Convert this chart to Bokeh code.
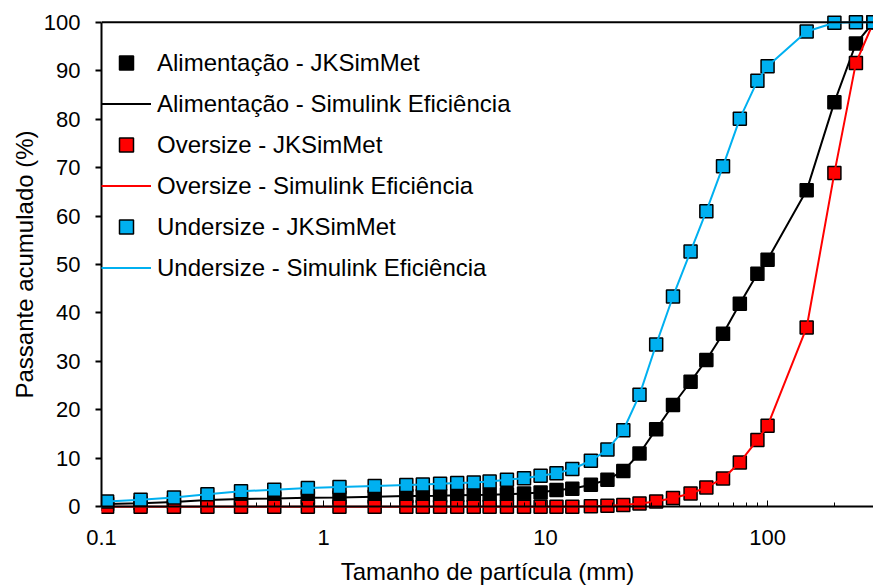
from bokeh.plotting import figure
from bokeh.models import (Range1d, FixedTicker, CustomJSTickFormatter, Span,
                          Legend, LegendItem, LogAxis)
from bokeh.embed import file_html
from bokeh.resources import INLINE

# ---------------- data ----------------
sizes = [0.106, 0.15, 0.212, 0.3, 0.425, 0.6, 0.85, 1.18, 1.7, 2.36, 2.8, 3.35,
         4.0, 4.75, 5.6, 6.7, 8.0, 9.5, 11.2, 13.2, 16.0, 19.0, 22.4, 26.5,
         31.5, 37.5, 45.0, 53.0, 63.0, 75.0, 90.0, 100.0, 150.0, 200.0, 250.0, 300.0]

alim_jk = [0.55, 0.75, 1.0, 1.4, 1.6, 1.7, 1.85, 1.9, 2.05, 2.2, 2.25, 2.3,
           2.4, 2.45, 2.5, 2.6, 2.75, 2.95, 3.45, 3.7, 4.55, 5.6, 7.4, 11.0,
           16.0, 21.0, 25.8, 30.3, 35.7, 41.9, 48.1, 51.0, 65.3, 83.5, 95.6, 100.0]
alim_sim = [0.55, 0.75, 1.0, 1.4, 1.6, 1.7, 1.85, 1.9, 2.05, 2.2, 2.25, 2.3,
            2.4, 2.45, 2.5, 2.6, 2.75, 2.95, 3.45, 3.7, 4.55, 5.6, 7.4, 11.0,
            16.0, 21.0, 25.8, 30.3, 35.7, 41.9, 48.1, 51.0, 65.3, 83.5, 95.6, 100.0]

over_jk = [0.0, 0.0, 0.0, 0.0, 0.0, 0.0, 0.0, 0.0, 0.0, 0.0, 0.0, 0.0,
           0.0, 0.0, 0.0, 0.0, 0.0, 0.0, 0.0, 0.0, 0.1, 0.2, 0.35, 0.7,
           1.1, 1.8, 2.75, 4.0, 5.85, 9.15, 13.8, 16.7, 37.0, 68.9, 91.6, 100.0]
over_sim = [0.0, 0.0, 0.0, 0.0, 0.0, 0.0, 0.0, 0.0, 0.0, 0.0, 0.0, 0.0,
            0.0, 0.0, 0.0, 0.0, 0.0, 0.0, 0.0, 0.0, 0.1, 0.2, 0.35, 0.7,
            1.1, 1.8, 2.75, 4.0, 5.85, 9.15, 13.8, 16.7, 37.0, 68.9, 91.6, 100.0]

under_jk = [1.1, 1.45, 1.9, 2.6, 3.2, 3.5, 3.9, 4.1, 4.3, 4.5, 4.6, 4.75,
            4.9, 5.0, 5.2, 5.6, 5.9, 6.4, 6.9, 7.8, 9.5, 11.8, 15.8, 23.1,
            33.5, 43.4, 52.7, 61.0, 70.3, 80.1, 87.9, 90.9, 98.1, 99.9, 100.0, 100.0]
under_sim = [1.1, 1.45, 1.9, 2.6, 3.2, 3.5, 3.9, 4.1, 4.3, 4.5, 4.6, 4.75,
             4.9, 5.0, 5.2, 5.6, 5.9, 6.4, 6.9, 7.8, 9.5, 11.8, 15.8, 23.1,
             33.5, 43.4, 52.7, 61.0, 70.3, 80.1, 87.9, 90.9, 98.1, 99.9, 100.0, 100.0]

labels = ["Alimentação - JKSimMet", "Alimentação - Simulink Eficiência",
          "Oversize - JKSimMet", "Oversize - Simulink Eficiência",
          "Undersize - JKSimMet", "Undersize - Simulink Eficiência"]

x_major_ticks = [0.1, 1, 10, 100]
x_minor_ticks = [0.2, 0.3, 0.4, 0.5, 0.6, 0.7, 0.8, 0.9,
                 2, 3, 4, 5, 6, 7, 8, 9,
                 20, 30, 40, 50, 60, 70, 80, 90, 200, 300]
y_ticks = [0, 10, 20, 30, 40, 50, 60, 70, 80, 90, 100]

x_title = "Tamanho de partícula (mm)"
y_title = "Passante acumulado (%)"

BLUE = "#00B0F0"
RED = "#FF0000"
FONT = "Liberation Sans"

# ---------------- figure ----------------
p = figure(width=873, height=588, x_axis_type="log",
           x_range=Range1d(0.1, 300), y_range=Range1d(-1.8, 101.8),
           output_backend="svg", toolbar_location=None,
           min_border_left=101, min_border_right=0,
           min_border_top=13, min_border_bottom=73)
p.outline_line_color = None
p.grid.visible = False
p.background_fill_color = "white"
p.border_fill_color = "white"

# x axis line + ticks, drawn at y = 0
xa = p.xaxis[0]
xa.fixed_location = 0
xa.ticker = FixedTicker(ticks=x_major_ticks, minor_ticks=x_minor_ticks)
xa.formatter = CustomJSTickFormatter(code="return tick.toString();")
xa.axis_line_color = "black"
xa.axis_line_width = 2
xa.major_tick_in = 6
xa.major_tick_out = 0
xa.minor_tick_in = 4
xa.minor_tick_out = 0
xa.major_tick_line_color = "black"
xa.minor_tick_line_color = "black"
xa.major_label_text_color = None

# x axis labels + title (in the panel below)
xlab = LogAxis(ticker=FixedTicker(ticks=x_major_ticks),
               formatter=CustomJSTickFormatter(code="return tick.toString();"),
               axis_line_color=None, major_tick_line_color=None,
               minor_tick_line_color=None, major_tick_in=0, major_tick_out=0,
               minor_tick_in=0, minor_tick_out=0,
               major_label_text_font=FONT, major_label_text_font_size="22px",
               major_label_text_color="black", major_label_standoff=14,
               axis_label=x_title, axis_label_text_font=FONT,
               axis_label_text_font_size="24px",
               axis_label_text_font_style="normal",
               axis_label_text_color="black", axis_label_standoff=10)
p.add_layout(xlab, "below")

# y axis
ya = p.yaxis[0]
ya.bounds = (0, 100)
ya.ticker = FixedTicker(ticks=y_ticks)
ya.axis_line_color = "black"
ya.axis_line_width = 2
ya.major_tick_in = 0
ya.major_tick_out = 6
ya.major_tick_line_width = 2
ya.major_tick_line_color = "black"
ya.minor_tick_line_color = None
ya.major_label_text_font = FONT
ya.major_label_text_font_size = "22px"
ya.major_label_text_color = "black"
ya.major_label_standoff = 15
ya.axis_label = y_title
ya.axis_label_text_font = FONT
ya.axis_label_text_font_size = "24px"
ya.axis_label_text_font_style = "normal"
ya.axis_label_text_color = "black"
ya.axis_label_standoff = 3

# top border line at 100 %
p.add_layout(Span(location=100, dimension="width", line_color="black", line_width=2))

# ---------------- series ----------------
r_alim_jk = p.scatter(sizes, alim_jk, marker="square", size=13,
                      fill_color="black", line_color="black", line_width=1.5)
r_alim_sim = p.line(sizes, alim_sim, line_color="black", line_width=2)
r_over_jk = p.scatter(sizes, over_jk, marker="square", size=13,
                      fill_color=RED, line_color="black", line_width=1.5)
r_over_sim = p.line(sizes, over_sim, line_color=RED, line_width=2)
r_under_jk = p.scatter(sizes, under_jk, marker="square", size=13,
                       fill_color=BLUE, line_color="black", line_width=1.5)
r_under_sim = p.line(sizes, under_sim, line_color=BLUE, line_width=2)

renderers = [r_alim_jk, r_alim_sim, r_over_jk, r_over_sim, r_under_jk, r_under_sim]
items = [LegendItem(label=lab, renderers=[r]) for lab, r in zip(labels, renderers)]

legend = Legend(items=items, location=(0, 230), orientation="vertical",
                spacing=6, padding=0, margin=0,
                glyph_width=50, glyph_height=35, label_height=35,
                label_standoff=6, border_line_color=None,
                background_fill_alpha=0,
                label_text_font=FONT, label_text_font_size="24px",
                label_text_color="black")
p.add_layout(legend)

open("out.html", "w").write(file_html(p, INLINE))
